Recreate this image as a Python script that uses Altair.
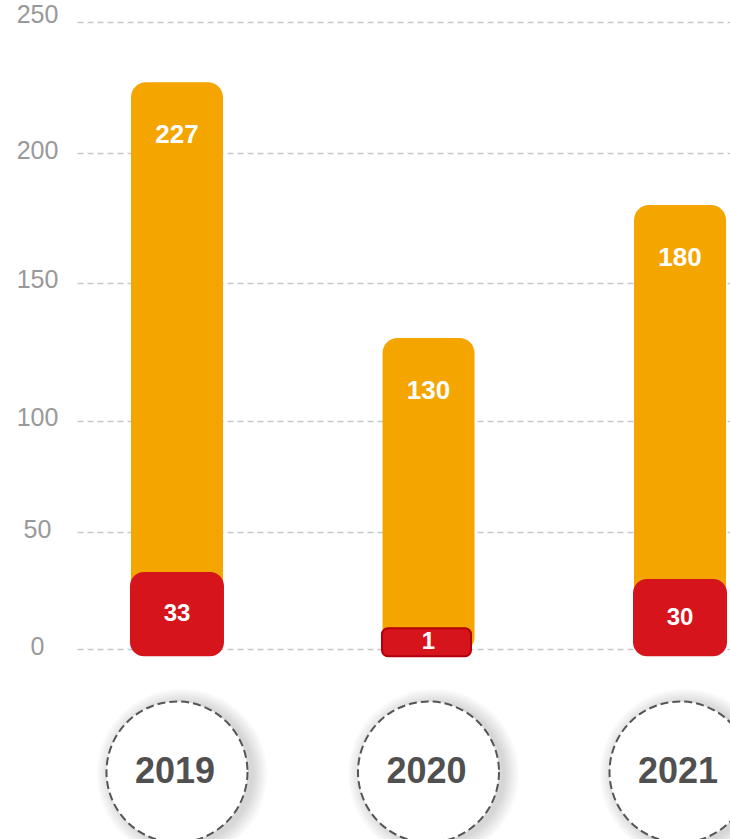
import altair as alt
import pandas as pd

years = ["2019", "2020", "2021"]
totals = [227, 130, 180]
reds = [33, 1, 30]
y_ticks = [0, 50, 100, 150, 200, 250]

df = pd.DataFrame({"year": years, "total": totals, "red": reds})

FONT = "Liberation Sans"
ORANGE = "#F4A500"
RED = "#D5141B"

# Plot geometry (pixels relative to plot top)
y_range = [649.3, 532.3, 420.7, 282.7, 153.3, 21.7]
yscale = alt.Scale(domain=y_ticks, range=y_range, nice=False, zero=False)
xscale = alt.Scale(range=[0, 703], paddingInner=0.205, paddingOuter=0)

x_enc = alt.X("year:N", scale=xscale, axis=None)

base = alt.Chart(df)

orange = base.mark_bar(width=92, cornerRadius=15, color=ORANGE, y2Offset=3).encode(
    x=x_enc,
    y=alt.Y("total:Q", scale=yscale, title=None,
            axis=alt.Axis(values=y_ticks, grid=True, gridDash=[6, 4], gridColor="#c8c8c8",
                          gridWidth=1.6, domain=False, ticks=False, labelAlign="center",
                          labelPadding=40, labelFontSize=25, labelColor="#999999",
                          labelFont=FONT, labelBaseline="middle",
                          labelOffset={"condition": {"test": "datum.value == 250", "value": -7},
                                       "value": -3})),
    y2=alt.datum(0),
)

orange_txt = base.mark_text(dy=53, fontSize=26, fontWeight="bold", color="white",
                            font=FONT, baseline="middle").encode(
    x=x_enc,
    y=alt.Y("total:Q", scale=yscale, title=None),
    text=alt.Text("total:Q"),
)

red_base = base.transform_calculate(disp="max(datum.red, 9)", mid="max(datum.red, 9) / 2")

red_big = red_base.transform_filter("datum.red >= 5").mark_bar(
    width=94, cornerRadius=14, color=RED, y2Offset=7).encode(
    x=x_enc,
    y=alt.Y("disp:Q", scale=yscale, title=None),
    y2=alt.datum(0),
)

red_small = red_base.transform_filter("datum.red < 5").mark_bar(
    width=89, cornerRadius=6, color=RED, y2Offset=7, stroke="#B3000C", strokeWidth=2,
    xOffset=-2).encode(
    x=x_enc,
    y=alt.Y("disp:Q", scale=yscale, title=None),
    y2=alt.datum(0),
)

red_txt = red_base.mark_text(dy=3.5, fontSize=24, fontWeight="bold", color="white",
                             font=FONT, baseline="middle").encode(
    x=x_enc,
    y=alt.Y("mid:Q", scale=yscale, title=None),
    text=alt.Text("red:Q"),
)

CIRCLE_D = 141
CY = 772
shadows = []
for k in range(1, 11):
    d = CIRCLE_D + 3 * k
    shadows.append(
        base.mark_point(shape="circle", filled=True, color="black", opacity=0.016,
                        size=d * d, xOffset=5, yOffset=2, strokeWidth=0).encode(
            x=x_enc, y=alt.value(CY))
    )

circles = base.mark_point(shape="circle", filled=True, fill="white", stroke="#555555",
                          strokeWidth=2, strokeDash=[8, 4], size=CIRCLE_D * CIRCLE_D,
                          opacity=1, fillOpacity=1, strokeOpacity=1).encode(
    x=x_enc, y=alt.value(CY))

year_txt = base.mark_text(fontSize=36, fontWeight="bold", color="#505050", font=FONT,
                          baseline="middle", xOffset=-2).encode(
    x=x_enc, y=alt.value(CY), text="year:N")

chart = alt.layer(orange, orange_txt, red_big, red_small, red_txt, *shadows, circles,
                  year_txt).properties(
    width=653, height=839,
    autosize=alt.AutoSizeParams(type="none"),
    padding={"left": 77, "top": 0, "right": 0, "bottom": 0},
    background="white",
).configure_view(stroke=None)

chart.save("out.html", embed_options={"renderer": "svg", "actions": False})
